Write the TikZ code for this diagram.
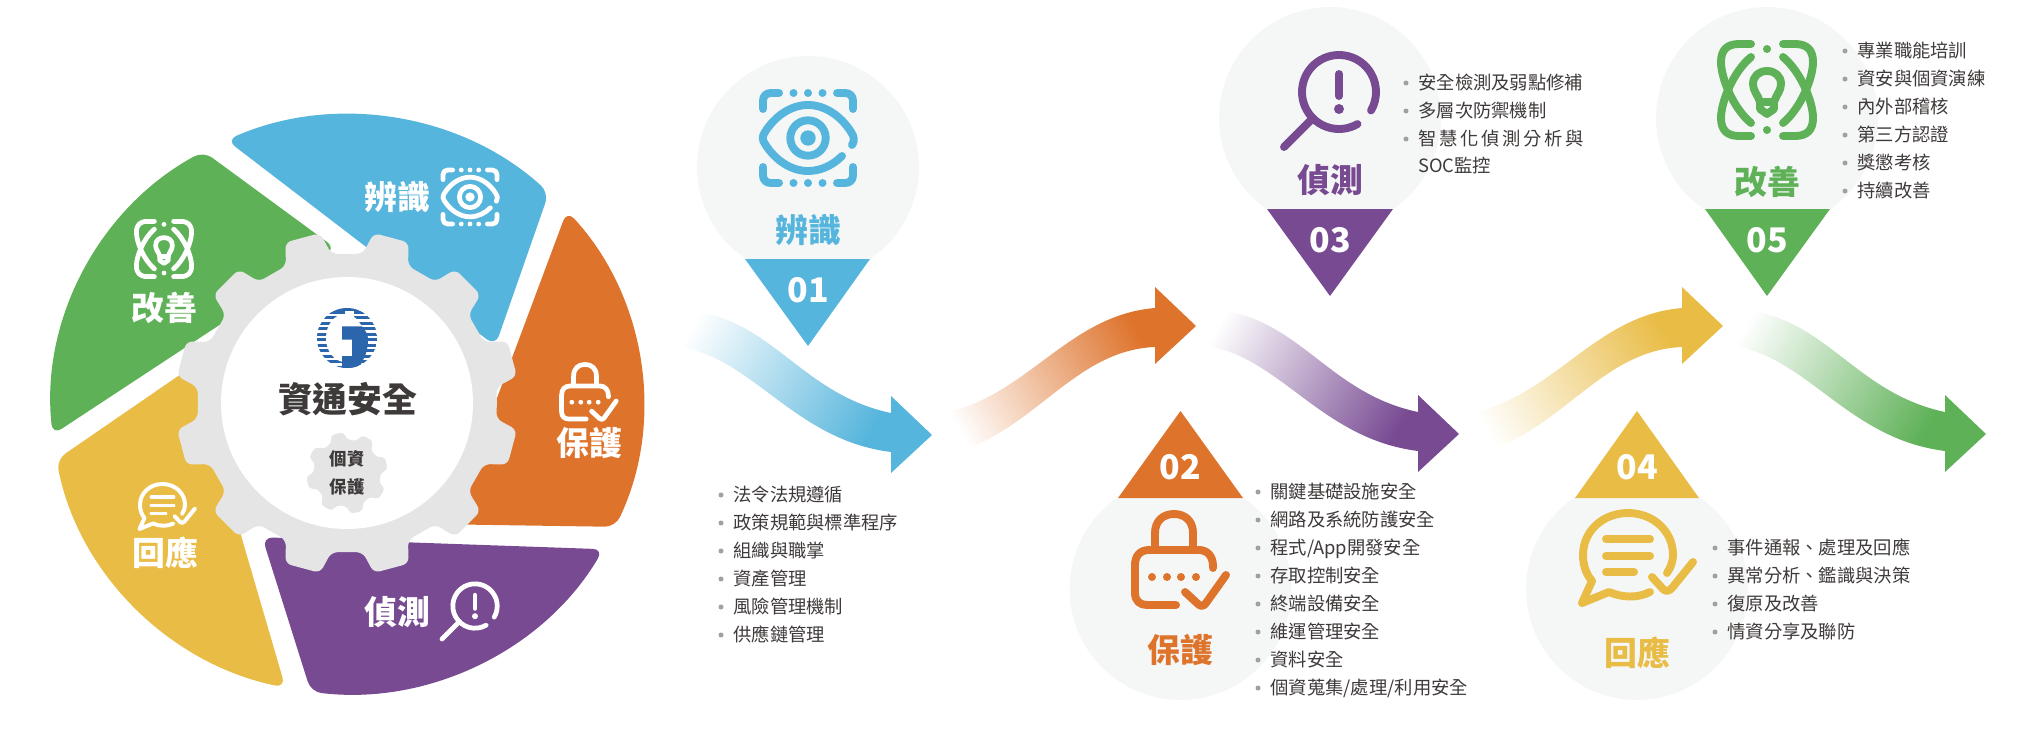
\documentclass[tikz,border=0pt]{standalone}
\usepackage{fontspec}
\setmainfont{Noto Sans CJK TC}

\definecolor{cblue}{HTML}{56B5DC}
\definecolor{corange}{HTML}{DE732C}
\definecolor{cpurple}{HTML}{774A92}
\definecolor{cyellow}{HTML}{E9BC46}
\definecolor{cgreen}{HTML}{5FB158}
\definecolor{cgear}{HTML}{E5E5E5}
\definecolor{cpale}{HTML}{F5F7F6}
\definecolor{cink}{HTML}{3E3A39}
\definecolor{cdot}{HTML}{9FA0A0}
\definecolor{clogo}{HTML}{2B66AC}
\colorlet{arrowcol}{cblue}

% band of an arrow: white at its tail, full colour at its head
\pgfdeclareverticalshading[arrowcol]{bandfade}{100bp}{color(0bp)=(arrowcol); color(26bp)=(arrowcol); color(80bp)=(white); color(100bp)=(white)}

% sizes are in reference pixels: 1 px = 0.02 cm = 0.5669 pt
\newcommand{\pxfont}[1]{\fontsize{#1}{#1}\selectfont}

% --- icons: #1 x, #2 y, #3 scale, #4 colour ---
\newcommand{\eyeicon}[4]{
  \begin{scope}[shift={(#1,#2)}, scale=#3, draw=#4, fill=#4, line width=#3*4.5pt, line cap=round, line join=round]
    \draw[fill=none] (-45,-29) -- (-45,-37) .. controls (-45,-42) and (-42,-45) .. (-37,-45) -- (-29,-45);
    \draw[fill=none] (45,-29) -- (45,-37) .. controls (45,-42) and (42,-45) .. (37,-45) -- (29,-45);
    \draw[fill=none] (-45,29) -- (-45,37) .. controls (-45,42) and (-42,45) .. (-37,45) -- (-29,45);
    \draw[fill=none] (45,29) -- (45,37) .. controls (45,42) and (42,45) .. (37,45) -- (29,45);
    \foreach \dx in {-14.5,0,14.5} {
      \fill[draw=none] (\dx,-45) circle (4);
      \fill[draw=none] (\dx,45) circle (4);
    }
    \draw[fill=none] (44,7) .. controls (47,3) and (46,-2) .. (43,-6) .. controls (33,-22) and (17,-33) .. (0,-33)
      .. controls (-17,-33) and (-33,-22) .. (-43,-6) .. controls (-46,-2) and (-46,2) .. (-43,6)
      .. controls (-33,22) and (-17,33) .. (0,33) .. controls (13,33) and (25,27) .. (34,18);
    \draw[fill=none] (0,0) circle (17.7);
    \fill[draw=none] (0,0) circle (7.7);
  \end{scope}
}
\newcommand{\lockicon}[4]{
  \begin{scope}[shift={(#1,#2)}, scale=#3, draw=#4, fill=#4, line width=#3*4.5pt, line cap=round, line join=round]
    \draw[fill=none] (33,8) -- (33,6) .. controls (33,-4) and (27,-10) .. (19,-10) -- (-31,-10)
      .. controls (-40,-10) and (-45,-4) .. (-45,5) -- (-45,33) .. controls (-45,41) and (-40,45) .. (-33,45) -- (-4,45);
    \draw[fill=none] (-25,-11) -- (-25,-27) .. controls (-25,-39) and (-17,-46) .. (-6,-46)
      .. controls (5,-46) and (13,-39) .. (13,-27) -- (13,-11);
    \foreach \dx in {-28,-13,1,16} {
      \fill[draw=none] (\dx,17) circle (4);
    }
    \draw[fill=none] (5,32) -- (18,44) .. controls (21,47) and (24,46) .. (26,43) -- (46,15);
  \end{scope}
}
\newcommand{\lensicon}[4]{
  \begin{scope}[shift={(#1,#2)}, scale=#3, draw=#4, fill=#4, line width=#3*4.5pt, line cap=round, line join=round]
    \draw[fill=none] (60:37) arc[start angle=60, end angle=390, radius=37];
    \draw (-26,26) -- (-55,55);
    \draw (0,-18) -- (0,4);
    \fill[draw=none] (0,17) circle (5);
  \end{scope}
}
\newcommand{\chaticon}[4]{
  \begin{scope}[shift={(#1,#2)}, scale=#3, draw=#4, fill=#4, line width=#3*4.5pt, line cap=round, line join=round]
    \draw[fill=none] (39,18) .. controls (43,12) and (45,6) .. (45,0) .. controls (45,-24) and (25,-42) .. (0,-42)
      .. controls (-25,-42) and (-45,-24) .. (-45,0) .. controls (-45,10) and (-42,19) .. (-36,26)
      -- (-46,48) -- (-19,37) .. controls (-5,43) and (10,43) .. (22,37);
    \draw (-22,-16) -- (22,-16);
    \draw (-22,1) -- (22,1);
    \draw (-22,17) -- (6,17);
    \draw[fill=none] (24,22) -- (35,34) .. controls (38,37) and (41,36) .. (44,33) -- (65,7);
  \end{scope}
}
\newcommand{\bulbicon}[4]{
  \begin{scope}[shift={(#1,#2)}, scale=#3, draw=#4, fill=#4, line width=#3*4.5pt, line cap=round, line join=round]
    \foreach \sx in {1,-1} {
      \begin{scope}[xscale=\sx]
        \draw[fill=none] (16,-46) -- (28,-46) .. controls (40,-46) and (46,-40) .. (46,-28)
          .. controls (46,-12) and (34,18) .. (16,33);
        \draw[fill=none] (16,46) -- (28,46) .. controls (40,46) and (46,40) .. (46,28)
          .. controls (46,12) and (34,-18) .. (16,-33);
      \end{scope}
    }
    \fill[draw=none] (0,-41) circle (4);
    \fill[draw=none] (0,40) circle (4);
    \draw[fill=none] (-7,12) .. controls (-9,5) and (-14,1) .. (-14,-6) .. controls (-14,-14) and (-8,-19) .. (0,-19)
      .. controls (8,-19) and (14,-14) .. (14,-6) .. controls (14,1) and (9,5) .. (7,12) -- (7,19) -- (0,24) -- (-7,19) -- cycle;
    \draw (-7,12) -- (7,12);
  \end{scope}
}

% --- bullet list: #1 name, #2 text x, #3 first y, #4 items ---
\newcommand{\bulletlist}[4]{
  \foreach \txt [count=\i] in {#4} {
    \node[item] (#1\i) at (#2,{#3+28*(\i-1)}) {\txt};
    \fill[cdot] ([xshift=-0.24cm]#1\i.west) circle (2.5);
  }
}

\begin{document}
\begin{tikzpicture}[
  x=0.02cm, y=-0.02cm,
  pale/.style={circle, fill=cpale, minimum size=4.44cm, inner sep=0pt},
  tag/.style={font=\pxfont{19.3}\bfseries, text=white, inner sep=0pt},
  head/.style={font=\pxfont{18.7}\bfseries, inner sep=0pt, text height=16.4pt, text depth=2.3pt},
  item/.style={font=\pxfont{10.43}, text=cink, anchor=west, inner sep=0pt, text height=9.2pt, text depth=1.25pt}
]
\useasboundingbox (0,0) rectangle (2042,730);

% --- ring segments ---
\begin{scope}[shift={(347,404.5)}, y=0.01956cm]
  \foreach \a/\col in {114/cblue, 42/corange, -30/cpurple, -102/cyellow, -174/cgreen} {
    \fill[\col, rounded corners=6pt] (\a:296) arc[start angle=\a, end angle=\a-67, radius=296] -- (\a-92:160) -- cycle;
  }
\end{scope}

% --- gears ---
\begin{scope}[shift={(347,403)}, y=0.02cm]
  \fill[cgear, rounded corners=3.5pt] (0:150) \foreach \a in {15,45,...,345} {
      -- (\a-9:150) -- (\a-6:172) -- (\a+6:172) -- (\a+9:150)
    } -- cycle;
  \fill[white] (0,0) circle (126);
  \begin{scope}[shift={(0,-70)}]
    \fill[cgear, rounded corners=2pt] (-8:33.5) \foreach \a in {14,59,...,329} {
        -- (\a-14:33.5) -- (\a-9:41) -- (\a+9:41) -- (\a+14:33.5)
      } -- cycle;
  \end{scope}
\end{scope}

% --- centre logo ---
\begin{scope}[shift={(347,338)}]
  \clip (0,0) circle (30);
  \foreach \y in {-30,-25,...,25} {
    \fill[clogo] (-30,{\y*1.1}) rectangle (30,{\y*1.1+3});
  }
  \fill[clogo] (-30,-30) rectangle (30,-25);
  \fill[white] (-2,0) ellipse (19 and 24);
  \fill[white] (-2,-27) rectangle (7,-10);
  \fill[clogo] (-5,-11.7) -- (15,-11.7) .. controls (19,-7) and (21,-3) .. (21,1) .. controls (21,7) and (20,13) .. (18,18)
    -- (12,30) -- (-5,30) -- (-5,18) -- (5,18) -- (5,1.7) -- (-5,1.7) -- cycle;
\end{scope}
\node[inner sep=0pt, font=\pxfont{19.8}\bfseries, text=cink] (title) at (347.7,399) {資通安全};
\node[inner sep=0pt, font=\pxfont{9.9}\bfseries, text=cink] (pdpa1) at (347,459) {個資};
\node[inner sep=0pt, font=\pxfont{9.9}\bfseries, text=cink] (pdpa2) at (347,487) {保護};

% --- ring labels ---
\node[head, text=white] (r1) at (397,197) {辨識};
\node[head, text=white] (r2) at (589,443) {保護};
\node[head, text=white] (r3) at (397,612) {偵測};
\node[head, text=white] (r4) at (165,553) {回應};
\node[head, text=white] (r5) at (164,308) {改善};
\eyeicon{470}{197}{0.6}{white}
\lockicon{588.6}{392}{0.6}{white}
\lensicon{475}{606}{0.6}{white}
\chaticon{162.5}{505}{0.5}{white}
\bulbicon{164}{249}{0.6}{white}

% --- arrows going down ---
\foreach \dx/\dy/\col in {0/0/cblue, 527/-1/cpurple, 1054/-1/cgreen} {
  \begin{scope}[shift={(\dx,\dy)}]
    \colorlet{arrowcol}{\col}
    \shade[shading=bandfade, shading angle=60] (699,312) .. controls (775,325) and (805,395) .. (891,413)
      -- (905,413) -- (905,452) -- (891,452) .. controls (795,440) and (755,360) .. (681,347) -- cycle;
    \fill[\col] (891,396) -- (932,435) -- (891,473) -- cycle;
  \end{scope}
}
% --- arrows going up ---
\foreach \dx/\col in {0/corange, 527/cyellow} {
  \begin{scope}[shift={(\dx,0)}]
    \colorlet{arrowcol}{\col}
    \shade[shading=bandfade, shading angle=120] (949,412) .. controls (1030,392) and (1070,315) .. (1155,308)
      -- (1169,308) -- (1169,347) -- (1155,347) .. controls (1080,350) and (1040,420) .. (971,447) -- cycle;
    \fill[\col] (1155,287) -- (1196,326) -- (1155,364) -- cycle;
  \end{scope}
}

% --- bubble 01 ---
\node[pale] (b1) at (808,167) {};
\eyeicon{808}{138}{1}{cblue}
\node[head, text=cblue] (h1) at (808,230) {辨識};
\fill[cblue] (745,259) -- (870,259) -- (808,346) -- cycle;
\node[tag] (n1) at (808,290) {01};
\bulletlist{a}{733}{495}{法令法規遵循, 政策規範與標準程序, 組織與職掌, 資產管理, 風險管理機制, 供應鏈管理}

% --- bubble 02 ---
\node[pale] (b2) at (1180.5,589) {};
\lockicon{1180}{560}{1}{corange}
\node[head, text=corange] (h2) at (1180,650) {保護};
\fill[corange] (1118,498) -- (1243,498) -- (1180.5,411) -- cycle;
\node[tag] (n2) at (1180,467) {02};
\bulletlist{b}{1270}{492}{關鍵基礎設施安全, 網路及系統防護安全, 程式/App開發安全, 存取控制安全, 終端設備安全, 維運管理安全, 資料安全, 個資蒐集/處理/利用安全}

% --- bubble 03 ---
\node[pale] (b3) at (1330,118) {};
\lensicon{1339}{92}{1}{cpurple}
\node[head, text=cpurple] (h3) at (1330,180) {偵測};
\fill[cpurple] (1267,209) -- (1393,209) -- (1330,296) -- cycle;
\node[tag] (n3) at (1330,240) {03};
\bulletlist{c}{1418}{83}{安全檢測及弱點修補, 多層次防禦機制, {\makebox[3.32cm][s]{智\hfil 慧\hfil 化\hfil 偵\hfil 測\hfil 分\hfil 析\hfil 與}}}
\node[item] (c4) at (1418,166) {SOC監控};

% --- bubble 04 ---
\node[pale] (b4) at (1637,589) {};
\chaticon{1628}{555}{1}{cyellow}
\node[head, text=cyellow] (h4) at (1637,653) {回應};
\fill[cyellow] (1575,498) -- (1699,498) -- (1637,411) -- cycle;
\node[tag] (n4) at (1637,467) {04};
\bulletlist{d}{1727}{548}{事件通報、處理及回應, 異常分析、鑑識與決策, 復原及改善, 情資分享及聯防}

% --- bubble 05 ---
\node[pale] (b5) at (1767,118) {};
\bulbicon{1767}{90}{1}{cgreen}
\node[head, text=cgreen] (h5) at (1767,182) {改善};
\fill[cgreen] (1705,209) -- (1830,209) -- (1767,296) -- cycle;
\node[tag] (n5) at (1767,240) {05};
\bulletlist{e}{1857}{51}{專業職能培訓, 資安與個資演練, 內外部稽核, 第三方認證, 獎懲考核, 持續改善}

\end{tikzpicture}
\end{document}
